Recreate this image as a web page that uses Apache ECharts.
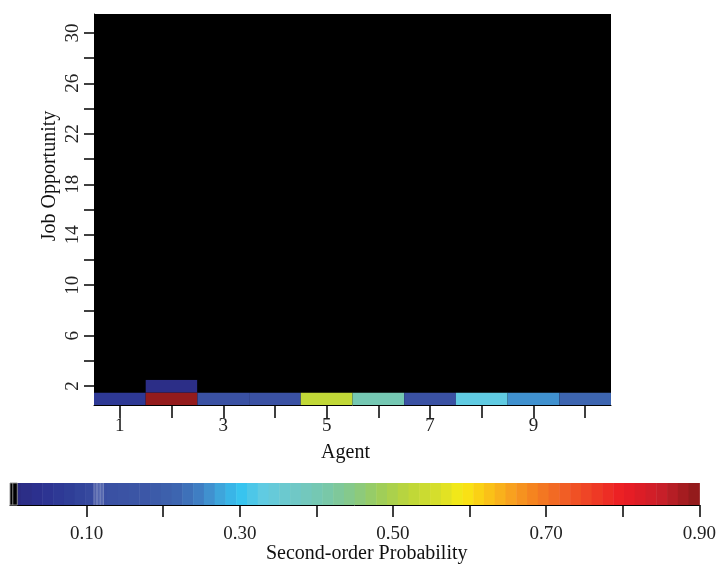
<!DOCTYPE html>
<html>
<head>
<meta charset="utf-8">
<script src="https://cdn.jsdelivr.net/npm/echarts@6/dist/echarts.min.js"></script>
<style>
  html, body { margin: 0; padding: 0; background: #fff; }
  #chart { width: 719px; height: 566px; }
</style>
</head>
<body>
<div id="chart"></div>
<script>
// Agents along x, job opportunities along y
const agents = [1, 2, 3, 4, 5, 6, 7, 8, 9, 10];
const jobCount = 31;

// Second-order probability per agent for the first two job opportunities;
// all other opportunities are zero
const job1Probs = [0.07, 0.895, 0.13, 0.13, 0.525, 0.405, 0.13, 0.335, 0.26, 0.215];
const job2Probs = [0, 0.015, 0, 0, 0, 0, 0, 0, 0, 0];

// Tick and label positions
const xTickValues = [1, 2, 3, 4, 5, 6, 7, 8, 9, 10];
const xLabelValues = [1, 3, 5, 7, 9];
const yTickValues = [2, 4, 6, 8, 10, 12, 14, 16, 18, 20, 22, 24, 26, 28, 30];
const yLabelValues = [2, 6, 10, 14, 18, 22, 26, 30];
const barTickValues = [0.1, 0.2, 0.3, 0.4, 0.5, 0.6, 0.7, 0.8, 0.9];
const barLabelValues = [0.1, 0.3, 0.5, 0.7, 0.9];

// Colour scale
const scaleMin = 0;
const scaleMax = 0.9;
const bandCount = 64;
const colorStops = [
  [0.00, '#2b2a7c'], [0.04, '#2c3190'], [0.08, '#2f3f98'], [0.12, '#3a4fa2'],
  [0.18, '#3c58a7'], [0.22, '#3d66b0'], [0.25, '#3f82c6'], [0.27, '#40a0d8'],
  [0.30, '#35c3f0'], [0.33, '#60cbe2'], [0.37, '#70c8c8'], [0.41, '#77c8ad'],
  [0.45, '#88c985'], [0.48, '#9ccd5c'], [0.52, '#bcd63a'], [0.56, '#d8df2a'],
  [0.59, '#f8ea14'], [0.62, '#fbc816'], [0.65, '#f8a51f'], [0.68, '#f5861f'],
  [0.71, '#f26a24'], [0.75, '#ef4726'], [0.80, '#ec1c24'], [0.85, '#c81f29'],
  [0.90, '#8b1a1a']
];

function hexToRgb(h) {
  return [parseInt(h.slice(1, 3), 16), parseInt(h.slice(3, 5), 16), parseInt(h.slice(5, 7), 16)];
}
function lerpColor(v) {
  if (v <= colorStops[0][0]) return colorStops[0][1];
  for (let i = 1; i < colorStops.length; i++) {
    if (v <= colorStops[i][0]) {
      const [v0, c0] = colorStops[i - 1];
      const [v1, c1] = colorStops[i];
      const t = (v - v0) / (v1 - v0);
      const a = hexToRgb(c0), b = hexToRgb(c1);
      const m = a.map((x, k) => Math.round(x + (b[k] - x) * t));
      return 'rgb(' + m.join(',') + ')';
    }
  }
  return colorStops[colorStops.length - 1][1];
}
const bandWidth = (scaleMax - scaleMin) / bandCount;
function bandColor(v) {
  if (v <= 0) return '#000';
  let idx = Math.floor((v - scaleMin) / bandWidth);
  idx = Math.max(0, Math.min(bandCount - 1, idx));
  return lerpColor(scaleMin + (idx + 0.5) * bandWidth);
}

// Cells [agent, job, probability]
const cells = [];
for (let j = 1; j <= jobCount; j++) {
  const row = j === 1 ? job1Probs : j === 2 ? job2Probs : null;
  agents.forEach((a, i) => cells.push([a, j, row ? row[i] : 0]));
}

// Colour bar bands [lo, hi]
const bands = [];
for (let i = 0; i < bandCount; i++) {
  bands.push([scaleMin + i * bandWidth, scaleMin + (i + 1) * bandWidth]);
}
// Highlight strips on the colour bar [lo, hi, kind]
const barMarks = [[0, 0.0095, 'zero'], [0.109, 0.1225, 'light']];

const FONT = 'Liberation Serif';
const FS = 19;
const NAME_FS = 20;

const chart = echarts.init(document.getElementById('chart'), null, { renderer: 'canvas' });

chart.setOption({
  animation: false,
  backgroundColor: '#fff',
  textStyle: { fontFamily: FONT },
  grid: [
    { left: 94, top: 14, width: 517, height: 391, show: true, backgroundColor: '#000', borderWidth: 0 },
    { left: 10, top: 483, width: 690, height: 22, show: false }
  ],
  xAxis: [
    {
      gridIndex: 0, type: 'value', min: 0.5, max: 10.5,
      name: 'Agent', nameLocation: 'middle', nameGap: 38, nameMoveOverlap: false,
      nameTextStyle: { fontFamily: FONT, fontSize: NAME_FS, color: '#111', padding: [0, 14, 0, 0] },
      axisLine: { show: true, lineStyle: { color: '#000', width: 1 } },
      axisTick: { show: true, length: 13, lineStyle: { color: '#000', width: 1.5 }, customValues: xTickValues },
      axisLabel: { fontFamily: FONT, fontSize: FS, color: '#222', margin: 12, customValues: xLabelValues },
      splitLine: { show: false }
    },
    {
      gridIndex: 1, type: 'value', min: scaleMin, max: scaleMax,
      name: 'Second-order Probability', nameLocation: 'middle', nameGap: 39, nameMoveOverlap: false,
      nameTextStyle: { fontFamily: FONT, fontSize: NAME_FS, color: '#111', padding: [0, 0, 0, 24] },
      axisLine: { show: true, lineStyle: { color: '#000', width: 1 } },
      axisTick: { show: true, length: 12, lineStyle: { color: '#000', width: 1.5 }, customValues: barTickValues },
      axisLabel: {
        fontFamily: FONT, fontSize: FS, color: '#222', margin: 20, customValues: barLabelValues,
        formatter: v => v.toFixed(2)
      },
      splitLine: { show: false }
    }
  ],
  yAxis: [
    {
      gridIndex: 0, type: 'value', min: 0.5, max: 31.5,
      name: 'Job Opportunity', nameLocation: 'middle', nameGap: 34, nameMoveOverlap: false,
      nameTextStyle: { fontFamily: FONT, fontSize: NAME_FS, color: '#111', padding: [0, 0, 0, 67] },
      axisLine: { show: true, lineStyle: { color: '#000', width: 1 } },
      axisTick: { show: true, length: 10, lineStyle: { color: '#000', width: 1.5 }, customValues: yTickValues },
      axisLabel: { fontFamily: FONT, fontSize: FS, color: '#222', margin: 11, rotate: 90, customValues: yLabelValues },
      splitLine: { show: false }
    },
    { gridIndex: 1, type: 'value', min: 0, max: 1, show: false }
  ],
  series: [
    {
      type: 'custom', xAxisIndex: 0, yAxisIndex: 0, data: cells,
      renderItem: (params, api) => {
        const x = api.value(0), y = api.value(1), v = api.value(2);
        const p0 = api.coord([x - 0.5, y + 0.5]);
        const p1 = api.coord([x + 0.5, y - 0.5]);
        return {
          type: 'rect',
          shape: { x: p0[0], y: p0[1], width: p1[0] - p0[0], height: p1[1] - p0[1] },
          style: { fill: bandColor(v) }
        };
      }
    },
    {
      type: 'custom', xAxisIndex: 1, yAxisIndex: 1, data: bands,
      renderItem: (params, api) => {
        const lo = api.value(0), hi = api.value(1);
        const p0 = api.coord([lo, 1]);
        const p1 = api.coord([hi, 0]);
        return {
          type: 'rect',
          shape: { x: p0[0], y: p0[1], width: p1[0] - p0[0] + 0.5, height: p1[1] - p0[1] },
          style: { fill: lerpColor((lo + hi) / 2) }
        };
      }
    },
    {
      type: 'custom', xAxisIndex: 1, yAxisIndex: 1, data: barMarks,
      renderItem: (params, api) => {
        const lo = api.value(0), hi = api.value(1);
        const kind = barMarks[params.dataIndex][2];
        const p0 = api.coord([lo, 1]);
        const p1 = api.coord([hi, 0]);
        const w = p1[0] - p0[0], h = p1[1] - p0[1];
        const lineCol = kind === 'zero' ? 'rgba(150,150,150,0.9)' : 'rgba(255,255,255,0.22)';
        const children = [{
          type: 'rect',
          shape: { x: p0[0], y: p0[1], width: w, height: h },
          style: { fill: kind === 'zero' ? '#000' : 'rgba(255,255,255,0.14)', stroke: kind === 'zero' ? lineCol : null, lineWidth: 1 }
        }];
        const n = kind === 'zero' ? 1 : 4;
        for (let k = 0; k < n; k++) {
          const xx = kind === 'zero' ? p0[0] + w * 0.38 : p0[0] + 0.5 + k * (w - 1) / (n - 1);
          children.push({
            type: 'line',
            shape: { x1: xx, y1: p0[1], x2: xx, y2: p1[1] },
            style: { stroke: lineCol, lineWidth: 1 }
          });
        }
        return { type: 'group', children };
      }
    }
  ]
});
</script>
</body>
</html>
